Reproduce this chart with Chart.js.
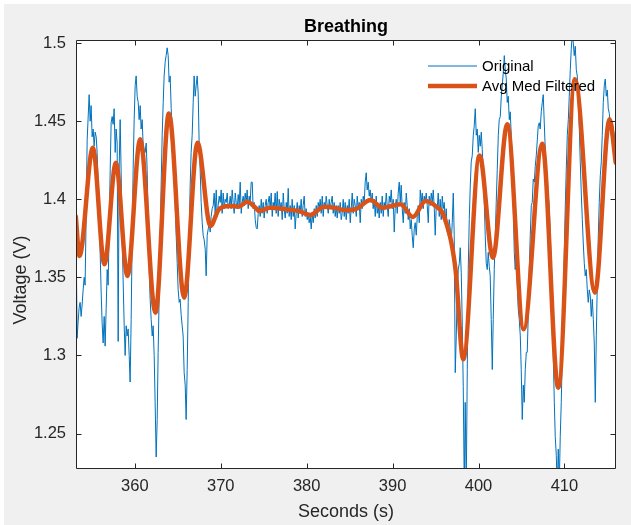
<!DOCTYPE html>
<html><head><meta charset="utf-8">
<script src="https://cdn.jsdelivr.net/npm/chart.js@4.4.0/dist/chart.umd.min.js"></script>
<style>html,body{margin:0;padding:0;background:#f0f0f0;}canvas{display:block;}</style>
</head><body>
<canvas id="c" width="631" height="525"></canvas>
<script>
const chartTitle = 'Breathing';
const xTitle = 'Seconds (s)';
const yTitle = 'Voltage (V)';
const seriesNames = ['Original', 'Avg Med Filtered'];
const xTickValues = [360, 370, 380, 390, 400, 410];
const xTickLabels = ['360', '370', '380', '390', '400', '410'];
const yTickValues = [1.25, 1.3, 1.35, 1.4, 1.45, 1.5];
const yTickLabels = ['1.25', '1.3', '1.35', '1.4', '1.45', '1.5'];
const xMin = 353.15, xMax = 416.0, yMin = 1.2273, yMax = 1.502;

const origTime = [
353.17,353.28,353.40,353.52,353.63,353.75,
353.87,353.98,354.10,354.21,354.33,354.45,354.56,354.68,354.80,354.91,
355.03,355.15,355.26,355.38,355.50,355.61,355.73,355.84,355.96,356.08,
356.19,356.31,356.43,356.54,356.66,356.78,356.89,357.01,357.13,357.24,
357.36,357.47,357.59,357.71,357.82,357.94,358.06,358.17,358.29,358.41,
358.52,358.64,358.76,358.87,358.99,359.10,359.22,359.34,359.45,359.57,
359.69,359.80,359.92,360.04,360.15,360.27,360.39,360.50,360.62,360.73,
360.85,360.97,361.08,361.20,361.32,361.43,361.55,361.67,361.78,361.90,
362.02,362.13,362.25,362.36,362.48,362.60,362.71,362.83,362.95,363.06,
363.18,363.30,363.41,363.53,363.64,363.76,363.88,363.99,364.11,364.23,
364.34,364.46,364.58,364.69,364.81,364.93,365.04,365.16,365.27,365.39,
365.51,365.62,365.74,365.86,365.97,366.09,366.21,366.32,366.44,366.55,
366.67,366.79,366.90,367.02,367.14,367.25,367.37,367.49,367.60,367.72,
367.84,367.95,368.07,368.19,368.30,368.42,368.54,368.65,368.77,368.88,
369.00,369.12,369.23,369.35,369.47,369.58,369.70,369.82,369.93,370.05,
370.16,370.28,370.40,370.51,370.63,370.75,370.86,370.98,371.10,371.21,
371.33,371.44,371.56,371.68,371.79,371.91,372.03,372.14,372.26,372.38,
372.49,372.61,372.73,372.84,372.96,373.07,373.19,373.31,373.42,373.54,
373.66,373.77,373.89,374.01,374.12,374.24,374.36,374.47,374.59,374.71,
374.82,374.94,375.05,375.17,375.29,375.40,375.52,375.64,375.75,375.87,
375.99,376.10,376.22,376.33,376.45,376.57,376.68,376.80,376.92,377.03,
377.15,377.27,377.38,377.50,377.62,377.73,377.85,377.96,378.08,378.20,
378.31,378.43,378.55,378.66,378.78,378.90,379.01,379.13,379.24,379.36,
379.48,379.59,379.71,379.83,379.94,380.06,380.18,380.29,380.41,380.53,
380.64,380.76,380.88,380.99,381.11,381.22,381.34,381.46,381.57,381.69,
381.81,381.92,382.04,382.16,382.27,382.39,382.51,382.62,382.74,382.85,
382.97,383.09,383.20,383.32,383.44,383.55,383.67,383.79,383.90,384.02,
384.13,384.25,384.37,384.48,384.60,384.72,384.83,384.95,385.07,385.18,
385.30,385.42,385.53,385.65,385.77,385.88,386.00,386.11,386.23,386.35,
386.46,386.58,386.70,386.81,386.93,387.04,387.16,387.28,387.39,387.51,
387.63,387.74,387.86,387.98,388.09,388.21,388.33,388.44,388.56,388.68,
388.79,388.91,389.02,389.14,389.26,389.37,389.49,389.61,389.72,389.84,
389.96,390.07,390.19,390.30,390.42,390.54,390.65,390.77,390.89,391.00,
391.12,391.24,391.35,391.47,391.59,391.70,391.82,391.94,392.05,392.17,
392.28,392.40,392.52,392.63,392.75,392.87,392.98,393.10,393.22,393.33,
393.45,393.56,393.68,393.80,393.91,394.03,394.15,394.26,394.38,394.50,
394.61,394.73,394.85,394.96,395.08,395.19,395.31,395.43,395.54,395.66,
395.78,395.89,396.01,396.13,396.24,396.36,396.48,396.59,396.71,396.82,
396.94,397.06,397.17,397.29,397.41,397.52,397.64,397.76,397.87,397.99,
398.11,398.22,398.34,398.45,398.57,398.69,398.80,398.92,399.04,399.15,
399.27,399.39,399.50,399.62,399.74,399.85,399.97,400.08,400.20,400.32,
400.43,400.55,400.67,400.78,400.90,401.02,401.13,401.25,401.36,401.48,
401.60,401.71,401.83,401.95,402.06,402.18,402.30,402.41,402.53,402.65,
402.76,402.88,403.00,403.11,403.23,403.34,403.46,403.58,403.69,403.81,
403.93,404.04,404.16,404.27,404.39,404.51,404.62,404.74,404.86,404.97,
405.09,405.21,405.32,405.44,405.56,405.67,405.79,405.90,406.02,406.14,
406.25,406.37,406.49,406.60,406.72,406.84,406.95,407.07,407.18,407.30,
407.42,407.53,407.65,407.77,407.88,408.00,408.12,408.23,408.35,408.47,
408.58,408.70,408.82,408.93,409.05,409.16,409.28,409.40,409.51,409.63,
409.75,409.86,409.98,410.10,410.21,410.33,410.45,410.56,410.68,410.79,
410.91,411.03,411.14,411.26,411.38,411.49,411.61,411.73,411.84,411.96,
412.08,412.19,412.31,412.42,412.54,412.66,412.77,412.89,413.01,413.12,
413.24,413.36,413.47,413.59,413.71,413.82,413.94,414.05,414.17,414.29,
414.40,414.52,414.64,414.75,414.87,414.99,415.10,415.22,415.33,415.45,
415.57,415.68,415.80,415.92,416.03
];
const origVolt = [
1.374,1.311,1.322,1.331,1.334,1.325,
1.333,1.342,1.350,1.345,1.389,1.438,1.452,1.467,1.450,1.460,
1.440,1.445,1.434,1.443,1.440,1.430,1.410,1.393,1.366,1.340,
1.321,1.308,1.325,1.306,1.330,1.355,1.345,1.381,1.419,1.449,
1.453,1.448,1.458,1.430,1.445,1.436,1.309,1.419,1.451,1.415,
1.377,1.347,1.319,1.300,1.319,1.3125,1.317,1.300,1.283,1.323,
1.377,1.419,1.451,1.473,1.479,1.466,1.462,1.451,1.460,1.445,
1.451,1.434,1.432,1.430,1.436,1.419,1.387,1.355,1.336,1.323,
1.3125,1.319,1.300,1.270,1.235,1.259,1.302,1.338,1.377,1.409,
1.441,1.462,1.479,1.488,1.492,1.497,1.492,1.475,1.479,1.458,
1.445,1.441,1.417,1.398,1.377,1.359,1.342,1.334,1.336,1.326,
1.319,1.3125,1.289,1.281,1.259,1.291,1.334,1.377,1.409,1.430,
1.441,1.462,1.479,1.466,1.473,1.479,1.468,1.434,1.419,1.398,
1.385,1.377,1.374,1.368,1.351,1.377,1.381,1.385,1.379,1.389,
1.394,1.396,1.404,1.391,1.406,1.389,1.396,1.402,1.398,1.406,
1.391,1.404,1.394,1.400,1.398,1.404,1.394,1.396,1.402,1.394,
1.406,1.398,1.391,1.404,1.398,1.394,1.403,1.396,1.411,1.391,
1.398,1.402,1.396,1.404,1.398,1.406,1.394,1.402,1.398,1.411,
1.411,1.394,1.398,1.387,1.382,1.381,1.391,1.396,1.389,1.400,
1.391,1.398,1.388,1.396,1.400,1.391,1.398,1.402,1.394,1.404,
1.389,1.398,1.394,1.404,1.391,1.405,1.389,1.400,1.394,1.398,
1.387,1.404,1.394,1.388,1.398,1.391,1.407,1.389,1.396,1.387,
1.400,1.389,1.396,1.381,1.391,1.398,1.388,1.396,1.391,1.400,
1.389,1.396,1.402,1.389,1.394,1.387,1.391,1.385,1.389,1.381,
1.391,1.385,1.394,1.388,1.396,1.389,1.398,1.394,1.400,1.391,
1.402,1.389,1.398,1.394,1.402,1.396,1.391,1.400,1.394,1.398,
1.402,1.391,1.398,1.389,1.396,1.388,1.396,1.391,1.398,1.387,
1.391,1.400,1.389,1.398,1.387,1.396,1.391,1.400,1.385,1.394,
1.404,1.391,1.400,1.396,1.389,1.402,1.394,1.398,1.385,1.400,
1.394,1.402,1.398,1.411,1.417,1.406,1.411,1.402,1.406,1.398,
1.404,1.394,1.400,1.389,1.402,1.391,1.396,1.388,1.398,1.391,
1.402,1.389,1.398,1.394,1.404,1.396,1.389,1.402,1.398,1.406,
1.394,1.400,1.379,1.394,1.400,1.391,1.404,1.411,1.398,1.409,
1.394,1.385,1.398,1.391,1.404,1.396,1.387,1.394,1.381,1.387,
1.377,1.369,1.381,1.385,1.377,1.389,1.396,1.385,1.406,1.398,
1.404,1.394,1.402,1.398,1.404,1.396,1.385,1.402,1.396,1.404,
1.398,1.406,1.394,1.377,1.396,1.394,1.404,1.389,1.400,1.387,
1.402,1.394,1.398,1.385,1.394,1.379,1.377,1.387,1.381,1.372,
1.385,1.404,1.377,1.289,1.3125,1.340,1.355,1.359,1.369,1.353,
1.319,1.280,1.215,1.270,1.215,1.291,1.355,1.387,1.409,1.424,
1.428,1.441,1.447,1.458,1.441,1.445,1.430,1.441,1.434,1.443,
1.432,1.419,1.398,1.377,1.359,1.355,1.366,1.357,1.351,1.323,
1.291,1.323,1.355,1.377,1.398,1.419,1.441,1.451,1.453,1.466,
1.473,1.481,1.492,1.483,1.477,1.462,1.466,1.451,1.456,1.441,
1.419,1.398,1.366,1.355,1.364,1.345,1.330,1.323,1.3125,1.291,
1.259,1.281,1.270,1.291,1.302,1.302,1.326,1.355,1.377,1.396,
1.398,1.413,1.411,1.421,1.428,1.438,1.447,1.449,1.445,1.456,
1.462,1.467,1.449,1.432,1.417,1.413,1.402,1.396,1.377,1.357,
1.336,1.300,1.270,1.248,1.236,1.215,1.240,1.218,1.248,1.270,
1.302,1.334,1.366,1.396,1.419,1.441,1.451,1.466,1.483,1.496,
1.506,1.500,1.492,1.498,1.483,1.479,1.462,1.445,1.424,1.404,
1.387,1.372,1.359,1.351,1.355,1.342,1.334,1.342,1.338,1.325,
1.336,1.323,1.308,1.270,1.313,1.345,1.377,1.398,1.415,1.424,
1.441,1.462,1.473,1.477,1.466,1.470,1.458,1.455,1.445,1.441,
1.449,1.445,1.441,1.434,1.430
];
const filtTime = [353.13,353.55,355.11,356.46,357.79,359.14,360.62,362.40,363.96,365.74,367.29,368.80,369.78,370.94,372.11,373.07,374.04,374.44,375.79,377.53,379.09,380.44,382.00,383.17,384.52,385.68,387.43,388.79,390.92,392.36,393.83,395.08,395.97,397.32,398.22,400.12,401.68,403.34,405.26,407.42,409.28,411.22,413.55,415.25,415.97];
const filtVolt = [1.389,1.3637,1.433,1.3584,1.4234,1.3509,1.4384,1.3274,1.455,1.337,1.4362,1.383,1.3936,1.3957,1.3953,1.3985,1.3946,1.3925,1.3946,1.3936,1.3925,1.390,1.3953,1.3946,1.3931,1.3936,1.3996,1.3946,1.3968,1.3887,1.3989,1.3953,1.3893,1.3552,1.2976,1.4281,1.3626,1.448,1.3168,1.4356,1.2794,1.4768,1.3402,1.4512,1.4234];

const FONT = "'Liberation Sans', Arial, Helvetica, sans-serif";
const AX = '#262626';
const BLUE = '#0072BD', ORANGE = '#D95319';

const bgPlugin = {
  id: 'bg',
  beforeDraw(chart) {
    const {ctx, chartArea: a} = chart;
    ctx.save();
    ctx.fillStyle = '#ffffff';
    ctx.fillRect(0, 0, chart.width, chart.height);
    ctx.fillStyle = '#f0f0f0';
    ctx.fillRect(4, 4, chart.width - 4, chart.height - 4);
    ctx.fillStyle = '#ffffff';
    ctx.fillRect(a.left, a.top, a.right - a.left, a.bottom - a.top);
    ctx.restore();
  }
};

const framePlugin = {
  id: 'frame',
  afterDatasetsDraw(chart) {
    const {ctx, chartArea: a, scales: {x, y}} = chart;
    const L = a.left + 0.5, R = a.right - 0.5, T = a.top + 0.5, B = a.bottom - 0.5;
    const tl = 5;
    ctx.save();
    ctx.strokeStyle = AX;
    ctx.lineWidth = 1;
    ctx.beginPath();
    ctx.rect(L, T, R - L, B - T);
    xTickValues.forEach(v => {
      const px = Math.round(x.getPixelForValue(v)) + 0.5;
      ctx.moveTo(px, B); ctx.lineTo(px, B - tl);
      ctx.moveTo(px, T); ctx.lineTo(px, T + tl);
    });
    yTickValues.forEach(v => {
      const py = Math.round(y.getPixelForValue(v)) + 0.5;
      ctx.moveTo(L, py); ctx.lineTo(L + tl, py);
      ctx.moveTo(R, py); ctx.lineTo(R - tl, py);
    });
    ctx.stroke();
    // legend
    const lx0 = 428, lx1 = 477, tx = 482;
    const rows = [{y: 66, c: BLUE, w: 1}, {y: 86, c: ORANGE, w: 4.5}];
    ctx.font = '15px ' + FONT;
    ctx.textAlign = 'left';
    ctx.textBaseline = 'middle';
    rows.forEach((r, i) => {
      ctx.beginPath();
      ctx.strokeStyle = r.c;
      ctx.lineWidth = r.w;
      ctx.moveTo(lx0, r.y); ctx.lineTo(lx1, r.y);
      ctx.stroke();
      ctx.fillStyle = '#000000';
      ctx.fillText(seriesNames[i], tx, r.y + 1);
    });
    ctx.restore();
  },
  afterDraw(chart) {
    const ctx = chart.ctx;
    ctx.save();
    ctx.translate(21, 280);
    ctx.rotate(-Math.PI / 2);
    ctx.font = '18px ' + FONT;
    ctx.fillStyle = AX;
    ctx.textAlign = 'center';
    ctx.textBaseline = 'middle';
    ctx.fillText(yTitle, 0, 0);
    ctx.restore();
  }
};

new Chart(document.getElementById('c'), {
  type: 'line',
  data: {
    datasets: [
      {
        label: seriesNames[0],
        data: origTime.map((t, i) => ({x: t, y: origVolt[i]})),
        borderColor: BLUE, borderWidth: 1, pointRadius: 0, tension: 0,
        borderJoinStyle: 'round', clip: 0, order: 2, fill: false
      },
      {
        label: seriesNames[1],
        data: filtTime.map((t, i) => ({x: t, y: filtVolt[i]})),
        borderColor: ORANGE, borderWidth: 4.5, pointRadius: 0,
        cubicInterpolationMode: 'monotone', borderJoinStyle: 'round', borderCapStyle: 'round',
        clip: 0, order: 1, fill: false
      }
    ]
  },
  options: {
    responsive: false, animation: false, devicePixelRatio: 1,
    layout: {padding: {left: 0, right: 15, top: 0, bottom: 0}},
    plugins: {
      legend: {display: false},
      tooltip: {enabled: false},
      title: {
        display: true, text: chartTitle, fullSize: false, color: '#000000',
        font: {family: FONT, size: 18, weight: 'bold'},
        padding: {top: 16, bottom: 2.4}
      }
    },
    scales: {
      x: {
        type: 'linear', min: xMin, max: xMax,
        grid: {display: false, drawTicks: false}, border: {display: false},
        afterBuildTicks(s) { s.ticks = xTickValues.map(v => ({value: v})); },
        afterFit(s) { s.height = 56; },
        ticks: {
          color: AX, font: {family: FONT, size: 16.5}, padding: 8,
          maxRotation: 0, autoSkip: false,
          callback: (v, i) => xTickLabels[i]
        },
        title: {display: true, text: xTitle, color: AX, font: {family: FONT, size: 18}, padding: {top: 0, bottom: 2}}
      },
      y: {
        type: 'linear', min: yMin, max: yMax,
        grid: {display: false, drawTicks: false}, border: {display: false},
        afterBuildTicks(s) { s.ticks = yTickValues.map(v => ({value: v})); },
        afterFit(s) { s.width = 76; },
        ticks: {
          color: AX, font: {family: FONT, size: 16.5}, padding: 10, autoSkip: false,
          callback: (v, i) => yTickLabels[i]
        },
        title: {display: false}
      }
    }
  },
  plugins: [bgPlugin, framePlugin]
});
</script>
</body></html>
